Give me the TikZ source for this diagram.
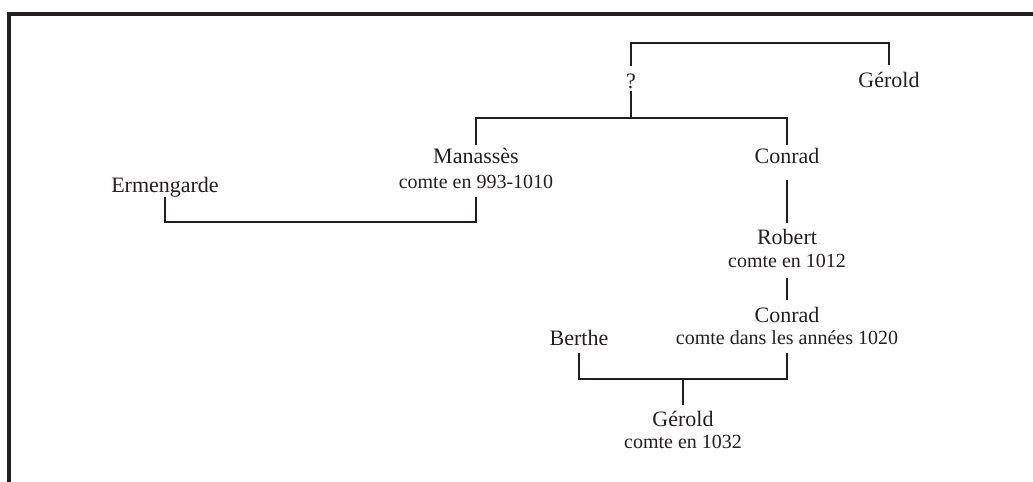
\documentclass[tikz,border=0pt]{standalone}
\usepackage{fontspec}
\setmainfont{Liberation Serif}
\usetikzlibrary{calc}
\definecolor{ink}{HTML}{231F20}
\tikzset{
  person/.style={font=\fontsize{16.5}{18}\selectfont, inner sep=0pt, anchor=base, text=ink},
  title/.style={font=\fontsize{15}{17}\selectfont, inner sep=0pt, anchor=base, text=ink},
  link/.style={line width=1pt, draw=ink},
  frame/.style={line width=2.3pt, draw=ink}
}
\begin{document}
\begin{tikzpicture}[x=0.75pt,y=-0.75pt]
\useasboundingbox (0,0) rectangle (1033,482);
\draw[frame] (9,500) -- (9,14) -- (1050,14);

\node[person] (q) at (631,88) {?};
\node[person] (g1) at (889,87) {Gérold};
\node[person] (man) at (476,163) {Manassès};
\node[title] (mant) at (476,188) {comte en 993-1010};
\node[person] (con1) at (787,163) {Conrad};
\node[person] (erm) at (165,192) {Ermengarde};
\node[person] (rob) at (787,244) {Robert};
\node[title] (robt) at (787,267) {comte en 1012};
\node[person] (con2) at (787,322) {Conrad};
\node[title] (con2t) at (787,344) {comte dans les années 1020};
\node[person] (ber) at (579,345) {Berthe};
\node[person] (ger2) at (683,426) {Gérold};
\node[title] (ger2t) at (683,448) {comte en 1032};

% ? and Gérold
\draw[link] ($(q.base)+(0,-22)$) -- ++(0,-23) -| ($(g1.base)+(0,-22)$);
% ? to children
\coordinate (qlow) at ($(q.base)+(0,3)$);
\draw[link] ($(man.base)+(0,-18)$) -- ++(0,-27) coordinate (qb) -| ($(con1.base)+(0,-18)$);
\draw[link] (qlow) -- (qlow |- qb);
% Manassès and Ermengarde
\draw[link] ($(mant.base)+(0,9)$) -- ++(0,25) -| ($(erm.base)+(0,5)$);
% Conrad -> Robert -> Conrad
\draw[link] ($(con1.base)+(0,17)$) -- ($(rob.base)+(0,-21)$);
\draw[link] ($(robt.base)+(0,11)$) -- ($(con2.base)+(0,-22)$);
% Conrad and Berthe -> Gérold
\coordinate (gtop) at ($(ger2.base)+(0,-21)$);
\draw[link] ($(con2t.base)+(0,9)$) -- ++(0,26) coordinate (mb) -| ($(ber.base)+(0,8)$);
\draw[link] (gtop) -- (gtop |- mb);
\end{tikzpicture}
\end{document}
